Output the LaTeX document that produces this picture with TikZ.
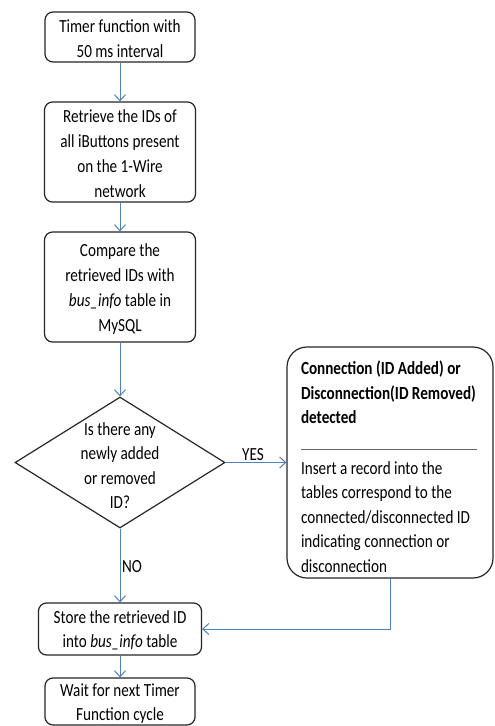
\documentclass[tikz,border=0pt]{standalone}
\usepackage{fontspec}
\setmainfont{Carlito}[FakeStretch=0.82]
\usetikzlibrary{shapes.geometric,arrows.meta}
\definecolor{arrowblue}{RGB}{79,129,189}
\begin{document}
\begin{tikzpicture}[x=1pt,y=-1pt,
  box/.style={draw=black!85, line width=1.2pt, rounded corners=8pt, align=center, inner sep=0pt,
    font=\fontsize{18.5}{25}\selectfont},
  flow/.style={draw=arrowblue, line width=1pt, -{Straight Barb[length=6pt,width=11pt]}},
  lbl/.style={font=\fontsize{18.5}{22}\selectfont, inner sep=1.5pt},
]
\useasboundingbox[fill=white] (0,0) rectangle (495,726);

\node[box, minimum width=150pt, minimum height=50pt] (timer) at (120,37)
  {\rule{0pt}{16pt}Timer function with\\50 ms interval};
\node[box, minimum width=151pt, minimum height=100pt] (retrieve) at (120,152)
  {\rule{0pt}{17pt}Retrieve the IDs of\\all iButtons present\\on the 1-Wire\\network};
\node[box, minimum width=151pt, minimum height=110pt] (compare) at (120,287)
  {\rule{0pt}{16pt}Compare the\\retrieved IDs with\\\textit{bus\_info} table in\\MySQL};
\node[draw=black!85, line width=1.2pt, shape=diamond, minimum width=210pt, minimum height=131pt,
  inner sep=0pt,
  label={[align=center, font=\fontsize{18.5}{24.5}\selectfont, yshift=-3pt]center:Is there any\\newly added\\or removed\\ID?}]
  (decision) at (120,462.5) {};
\node[box, rounded corners=20pt, minimum width=206pt, minimum height=231pt, text width=178pt,
  align=flush left, font=\fontsize{18.5}{24.5}\selectfont] (rbox) at (390,462.5)
  {\rule{0pt}{22pt}\textbf{Connection (ID Added) or}\\\textbf{Disconnection(ID Removed)}\\\textbf{detected}\\[1.5pt]
   {\color{black!60}\rule{176pt}{0.8pt}}\\
   Insert a record into the\\tables correspond to the\\connected/disconnected ID\\indicating connection or\\disconnection};
\node[box, minimum width=163pt, minimum height=52pt, font=\fontsize{18.5}{24}\selectfont] (store) at (120,629)
  {\rule{0pt}{15pt}Store the retrieved ID\\into \textit{bus\_info} table};
\node[box, minimum width=150pt, minimum height=47pt, font=\fontsize{18.5}{24}\selectfont] (wait) at (120,701.5)
  {\rule{0pt}{17pt}Wait for next Timer\\Function cycle};

\draw[flow] (timer.south) -- (retrieve.north);
\draw[flow] (retrieve.south) -- (compare.north);
\draw[flow] (compare.south) -- (decision.north);
\draw[flow] (decision.east) -- node[lbl, above, pos=0.45] {YES} (rbox.west);
\draw[flow] (decision.south) -- node[lbl, right, pos=0.52] {NO} (store.north);
\draw[flow] (rbox.south) |- (store.east);
\draw[flow] (store.south) -- (wait.north);
\end{tikzpicture}
\end{document}
